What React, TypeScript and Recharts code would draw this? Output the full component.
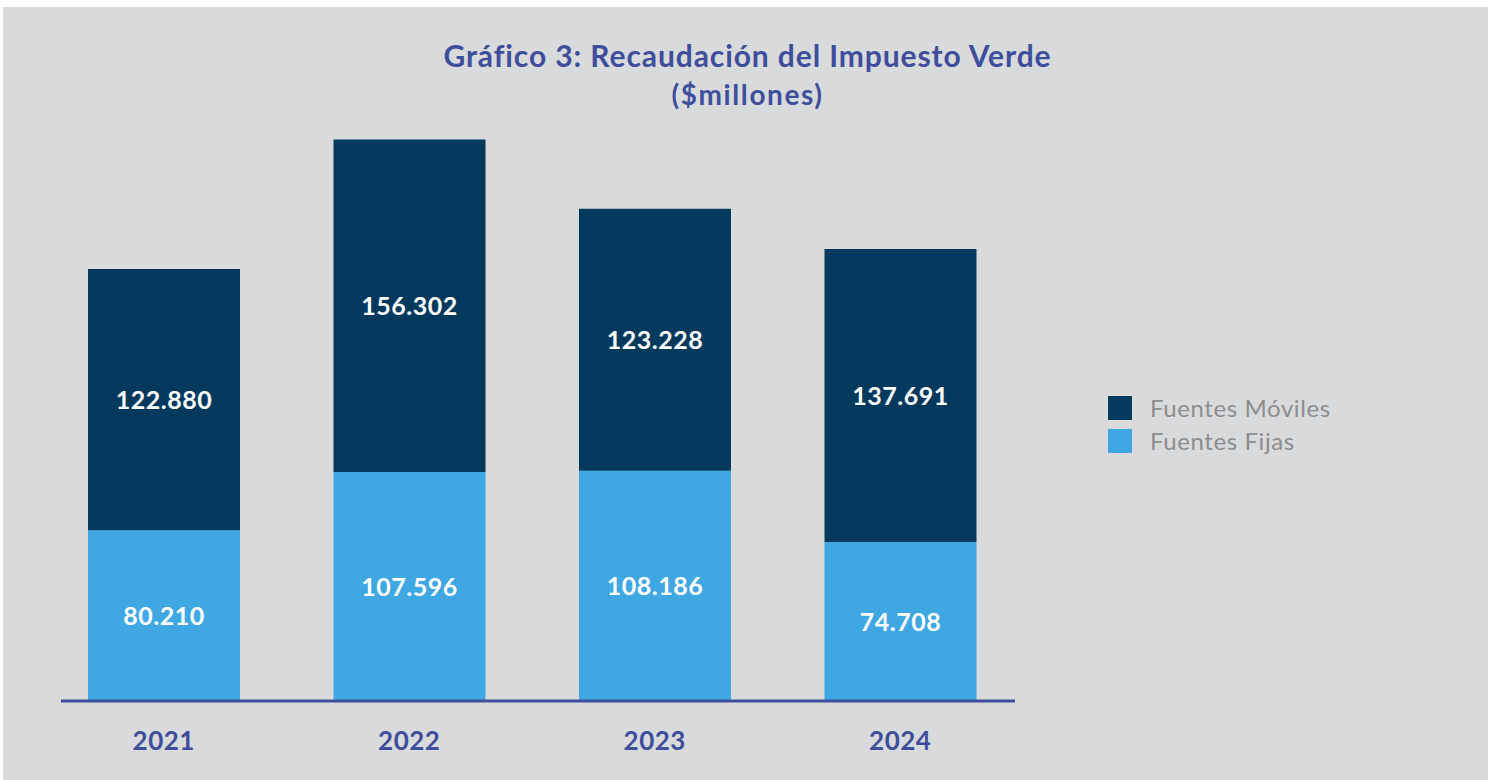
import { BarChart, Bar, XAxis, YAxis, LabelList } from 'recharts';

const years = ['2021', '2022', '2023', '2024'];
const fuentesFijas = [80210, 107596, 108186, 74708];
const fuentesMoviles = [122880, 156302, 123228, 137691];

const NAVY = '#04395e';
const LIGHT = '#3fa7e1';
const INK = '#3e4e9c';
const BG = '#d9dadc';
const FONT = 'Lato, "Open Sans", sans-serif';

const data = years.map((year, i) => ({
  year,
  fijas: fuentesFijas[i],
  moviles: fuentesMoviles[i],
}));

const legendItems = [
  { label: 'Fuentes Móviles', color: NAVY },
  { label: 'Fuentes Fijas', color: LIGHT },
];

const fmt = (v: number) => String(v).replace(/\B(?=(\d{3})+(?!\d))/g, '.');

function SegmentLabel(props: any) {
  const { x, y, width, height, value } = props;
  return (
    <text
      x={x + width / 2}
      y={y + height / 2}
      dy={9}
      textAnchor="middle"
      fill="#ffffff"
      fontFamily={FONT}
      fontWeight={700}
      fontSize={25}
      letterSpacing={0.5}
    >
      {fmt(value)}
    </text>
  );
}

function YearTick(props: any) {
  const { x, y, payload } = props;
  return (
    <text
      x={x}
      y={y + 41}
      textAnchor="middle"
      fill={INK}
      fontFamily={FONT}
      fontWeight={700}
      fontSize={26}
      letterSpacing={0.5}
    >
      {payload.value}
    </text>
  );
}

export default function App() {
  return (
    <div>
      <style>{'body{margin:0;background:#ffffff;}'}</style>
      <div
        style={{
          position: 'absolute',
          left: 3,
          top: 7,
          width: 1485,
          height: 773,
          background: BG,
          fontFamily: FONT,
        }}
      >
        <div
          style={{
            position: 'absolute',
            left: 0,
            top: 31,
            width: 1489,
            textAlign: 'center',
            color: INK,
            fontWeight: 700,
            fontSize: 30,
            letterSpacing: 0.9,
            lineHeight: '34px',
          }}
        >
          Gráfico 3: Recaudación del Impuesto Verde
        </div>
        <div
          style={{
            position: 'absolute',
            left: 0,
            top: 71,
            width: 1489,
            textAlign: 'center',
            color: INK,
            fontWeight: 700,
            fontSize: 28,
            letterSpacing: 1.6,
            lineHeight: '32px',
          }}
        >
          ($millones)
        </div>

        <div style={{ position: 'absolute', left: 1105, top: 389 }}>
          {legendItems.map((item) => (
            <div
              key={item.label}
              style={{ display: 'flex', alignItems: 'center', height: 24, marginBottom: 9 }}
            >
              <div style={{ width: 24, height: 24, background: item.color }} />
              <span
                style={{
                  marginLeft: 18,
                  color: '#8d8d8d',
                  fontSize: 24,
                  letterSpacing: 0.6,
                  lineHeight: '24px',
                  whiteSpace: 'nowrap',
                }}
              >
                {item.label}
              </span>
            </div>
          ))}
        </div>

        <BarChart
          width={1485}
          height={773}
          data={data}
          margin={{ top: 94, right: 473, bottom: 19, left: 58 }}
          style={{ position: 'absolute', left: 0, top: 0 }}
        >
          <YAxis hide domain={[0, 282000]} />
          <XAxis
            dataKey="year"
            height={60}
            padding={{ left: -20, right: -8 }}
            tickLine={false}
            axisLine={{ stroke: INK, strokeWidth: 3 }}
            tick={<YearTick />}
            interval={0}
          />
          <Bar dataKey="fijas" stackId="a" fill={LIGHT} barSize={152} isAnimationActive={false}>
            <LabelList dataKey="fijas" content={<SegmentLabel />} />
          </Bar>
          <Bar dataKey="moviles" stackId="a" fill={NAVY} barSize={152} isAnimationActive={false}>
            <LabelList dataKey="moviles" content={<SegmentLabel />} />
          </Bar>
        </BarChart>
      </div>
    </div>
  );
}
